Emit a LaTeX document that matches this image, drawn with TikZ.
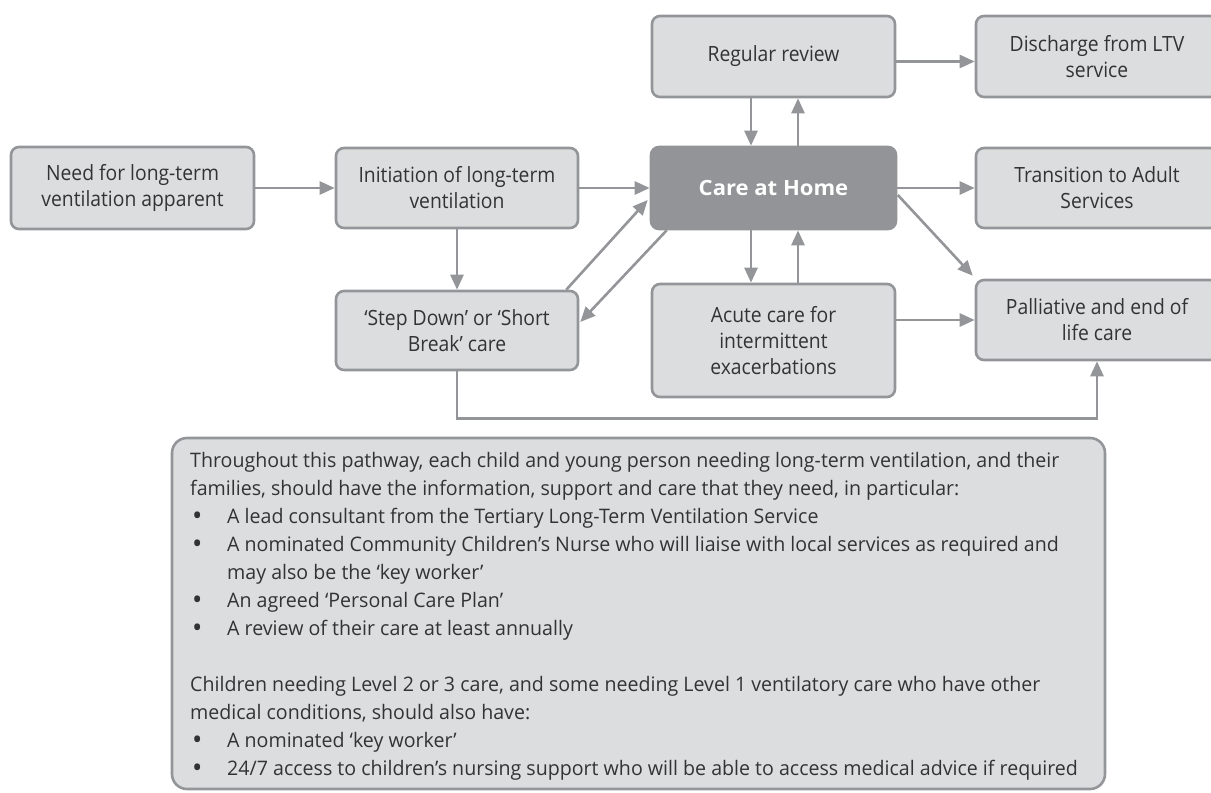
\documentclass[tikz,border=0pt]{standalone}
\usepackage{fontspec}
\setmainfont{Open Sans}
\newfontfamily\boxfont[FakeStretch=0.92]{Open Sans}
\newfontfamily\carefont[FakeStretch=1.05]{Open Sans}
\newfontfamily\notefont[FakeStretch=0.98]{Open Sans}
\usetikzlibrary{arrows.meta,calc}
\definecolor{boxfill}{HTML}{DCDDDF}
\definecolor{boxline}{HTML}{939598}
\definecolor{carefill}{HTML}{929497}
\definecolor{txtcol}{HTML}{333333}
\newcommand{\notebullet}{\makebox[37pt][l]{\hspace{2pt}\raisebox{-2.5pt}{\fontsize{28}{28}\selectfont\textbullet}}}
\tikzset{
  box/.style={draw=boxline, fill=boxfill, line width=2.6pt, rounded corners=8pt,
    align=center, text=txtcol, inner sep=0pt,
    font=\boxfont\fontsize{21}{26}\selectfont},
  carebox/.style={box, draw=carefill, fill=carefill, text=white,
    font=\carefont\bfseries\fontsize{21}{26}\selectfont},
  arr/.style={draw=boxline, line width=2.6pt, -{Triangle[length=15pt,width=13pt]}},
  notebox/.style={draw=boxline, fill=boxfill, line width=2.6pt, rounded corners=15pt},
  notetext/.style={align=left, text=txtcol, inner sep=0pt,
    font=\notefont\fontsize{20}{28}\selectfont}
}
\begin{document}
\begin{tikzpicture}[x=1pt,y=-1pt]
\useasboundingbox (0,0) rectangle (1211,793);
\clip (0,0) rectangle (1211,793);
% boxes
\node[box, minimum width=243pt, minimum height=82pt] (need) at (132.5,188) {Need for long-term\\ventilation apparent};
\node[box, minimum width=242pt, minimum height=80pt] (init) at (457,188) {Initiation of long-term\\ventilation};
\node[box, minimum width=242pt, minimum height=79pt] (step) at (457,330.5) {‘Step Down’ or ‘Short\\Break’ care};
\node[box, minimum width=243pt, minimum height=81pt] (review) at (773.5,56.5) {Regular review};
\node[carebox, minimum width=245pt, minimum height=82pt] (care) at (773.5,188) {Care at Home};
\node[box, minimum width=243pt, minimum height=113pt] (acute) at (773.5,340.5) {Acute care for\\intermittent\\exacerbations};
\node[box, minimum width=242pt, minimum height=81pt] (discharge) at (1097,56.5) {Discharge from LTV\\service};
\node[box, minimum width=242pt, minimum height=80pt] (transition) at (1097,188) {Transition to Adult\\Services};
\node[box, minimum width=242pt, minimum height=80pt] (palliative) at (1097,320) {Palliative and end of\\life care};
% connectors
\draw[arr] (need.east) -- (init.west);
\draw[arr] (init.east) -- (care.west);
\draw[arr] (init.south) -- (step.north);
\draw[arr] ($(step.north east)+(-13,0)$) -- ($(care.west)+(-2,12)$);
\draw[arr] ($(care.south west)+(17,0)$) -- ($(step.east)+(1,-8.5)$);
\draw[arr] ($(review.south)+(-22.5,0)$) -- ($(care.north)+(-22.5,0)$);
\draw[arr] ($(care.north)+(24.5,0)$) -- ($(review.south)+(24.5,0)$);
\draw[arr] ($(care.south)+(-22.5,0)$) -- ($(acute.north)+(-22.5,0)$);
\draw[arr] ($(acute.north)+(24.5,0)$) -- ($(care.south)+(24.5,0)$);
\draw[arr] ($(review.east)+(0,5)$) -- ($(discharge.west)+(0,5)$);
\draw[arr] (care.east) -- (transition.west);
\draw[arr] ($(care.east)+(0.5,7)$) -- ($(palliative.north west)+(-2,-3)$);
\draw[arr] (acute.east |- palliative.west) -- (palliative.west);
\coordinate (pb) at ($(palliative.south)+(0,57)$);
\draw[arr] (step.south) |- (pb) -- (palliative.south);
% notes panel
\path[notebox] (172,438) rectangle (1105,789);
\node[notetext, anchor=north west] (notes) at (190,452) {Throughout this pathway, each child and young person needing long-term ventilation, and their\\
families, should have the information, support and care that they need, in particular:\\
\notebullet A lead consultant from the Tertiary Long-Term Ventilation Service\\
\notebullet A nominated Community Children’s Nurse who will liaise with local services as required and\\
\hspace*{37pt}may also be the ‘key worker’\\
\notebullet An agreed ‘Personal Care Plan’\\
\notebullet A review of their care at least annually\\[28pt]
Children needing Level 2 or 3 care, and some needing Level 1 ventilatory care who have other\\
medical conditions, should also have:\\
\notebullet A nominated ‘key worker’\\
\notebullet 24/7 access to children’s nursing support who will be able to access medical advice if required};
\end{tikzpicture}
\end{document}
